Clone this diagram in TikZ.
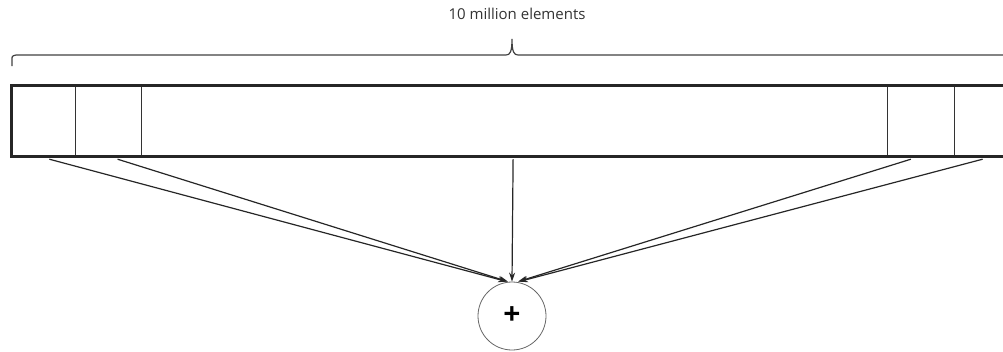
\documentclass[tikz,border=0pt]{standalone}
\usepackage{fontspec}
\setmainfont{Open Sans}
\usetikzlibrary{arrows.meta, positioning}

\begin{document}
\begin{tikzpicture}[
  x=1pt, y=-1pt,
  cell/.style={rectangle, draw=black!80, line width=1.2pt, minimum height=71pt,
               inner sep=0pt, anchor=north west},
  frame/.style={draw=black!85, line width=3pt},
  arr/.style={-{Stealth[length=9pt, width=6pt]}, line width=1.2pt, black!85},
  brace/.style={draw=black!75, line width=1.2pt},
]
  \useasboundingbox (0,0) rectangle (1003,351);
  \begin{scope}
  \clip (0,0) rectangle (1003,351);

  % label and brace
  \node[font=\fontsize{15}{17}\selectfont, text=black!80] (lbl) at (517,14) {10 million elements};
  \coordinate (btip) at (512,39);
  \draw[brace] (12,66) -- (12,60) .. controls (12,56) .. (16,55)
    -- (506,55) .. controls (510,55) and (512,52) .. (btip)
    .. controls (512,52) and (514,55) .. (518,55) -- (1010,55);

  % array cells
  \node[cell, minimum width=63.5pt] (c1) at (11.5,85.5) {};
  \node[cell, minimum width=66pt] (c2) at (75,85.5) {};
  \node[cell, minimum width=67.5pt] (c3) at (886.5,85.5) {};
  \node[cell, minimum width=60pt] (c4) at (954,85.5) {};
  \node[cell, draw=none, minimum width=745pt] (mid) at (141,85.5) {};
  \draw[frame] (11.5,85.5) rectangle (1012,156.5);

  % sum node
  \node[circle, draw=black!60, line width=0.8pt, minimum size=68pt, inner sep=0pt,
        font=\fontsize{30}{30}\selectfont\bfseries] (sum) at (512,316) {+};

  % arrows
  \draw[arr] ([xshift=5.5pt,yshift=-1.5pt]c1.south) -- ([xshift=-5pt]sum.north);
  \draw[arr] ([xshift=9pt,yshift=-1.5pt]c2.south) -- ([xshift=-4pt]sum.north);
  \draw[arr] ([xshift=-1pt,yshift=-1.5pt]mid.south) -- (sum.north);
  \draw[arr] ([xshift=-10pt,yshift=-1.5pt]c3.south) -- ([xshift=6pt]sum.north);
  \draw[arr] ([xshift=-2pt,yshift=-1.5pt]c4.south) -- ([xshift=7pt]sum.north);
  \end{scope}
\end{tikzpicture}
\end{document}
